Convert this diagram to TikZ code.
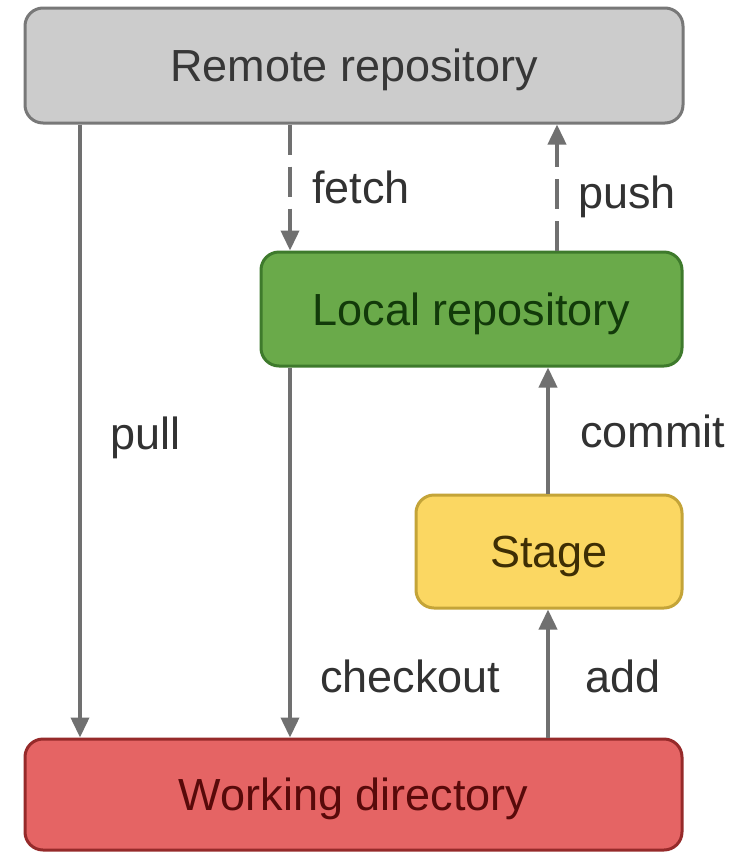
\documentclass[tikz,border=0pt]{standalone}
\usepackage{fontspec}
\setmainfont{Liberation Sans}
\usetikzlibrary{arrows.meta}

\definecolor{edgegray}{RGB}{112,112,112}
\definecolor{remotefill}{RGB}{204,204,204}
\definecolor{remotedraw}{RGB}{120,120,120}
\definecolor{remotetext}{RGB}{55,55,55}
\definecolor{localfill}{RGB}{106,170,74}
\definecolor{localdraw}{RGB}{62,122,44}
\definecolor{localtext}{RGB}{18,58,10}
\definecolor{stagefill}{RGB}{251,215,98}
\definecolor{stagedraw}{RGB}{196,164,56}
\definecolor{stagetext}{RGB}{62,46,4}
\definecolor{workfill}{RGB}{229,100,100}
\definecolor{workdraw}{RGB}{150,42,42}
\definecolor{worktext}{RGB}{88,10,10}
\definecolor{labeltext}{RGB}{50,50,50}

\tikzset{
  repo/.style={draw, line width=1.5pt, rounded corners=9pt, inner sep=0pt,
    text height=18pt, text depth=1.6pt,
    font=\fontsize{22.5}{27}\selectfont},
  flow/.style={draw=edgegray, line width=1.9pt,
    -{Triangle[width=9pt,length=10pt]}},
  remotecall/.style={flow, dash pattern=on 15pt off 6pt},
  cmd/.style={anchor=base west, inner sep=0pt, text=labeltext,
    font=\fontsize{22.5}{27}\selectfont},
}

\begin{document}
\begin{tikzpicture}[x=0.5pt, y=-0.5pt]
  \useasboundingbox[fill=white] (0,0) rectangle (729,852);

  % the four storage areas
  \node[repo, fill=remotefill, draw=remotedraw, text=remotetext,
        minimum width=329pt, minimum height=57.5pt]
        (remote) at (354,65.5) {Remote repository};
  \node[repo, fill=localfill, draw=localdraw, text=localtext,
        minimum width=210.5pt, minimum height=57pt]
        (local) at (471.5,309) {Local repository};
  \node[repo, fill=stagefill, draw=stagedraw, text=stagetext,
        minimum width=133pt, minimum height=56.5pt]
        (stage) at (549,551.5) {Stage};
  \node[repo, fill=workfill, draw=workdraw, text=worktext,
        minimum width=328.5pt, minimum height=55.5pt]
        (work) at (353.5,794.5) {Working directory};

  % x positions of the vertical connectors
  \coordinate (pullx) at (80,0);
  \coordinate (fetchx) at (290,0);
  \coordinate (pushx) at (557,0);
  \coordinate (stagex) at (548,0);

  % connectors
  \draw[flow] (remote.south -| pullx) -- (work.north -| pullx);
  \draw[remotecall] (remote.south -| fetchx) -- (local.north -| fetchx);
  \draw[remotecall] (local.north -| pushx) -- (remote.south -| pushx);
  \draw[flow] (local.south -| fetchx) -- (work.north -| fetchx);
  \draw[flow] (stage.north -| stagex) -- (local.south -| stagex);
  \draw[flow] (work.north -| stagex) -- (stage.south -| stagex);

  % command labels
  \node[cmd] (lpull) at (110,449) {pull};
  \node[cmd] (lfetch) at (312,203) {fetch};
  \node[cmd] (lpush) at (578,208) {push};
  \node[cmd] (lcommit) at (580,447) {commit};
  \node[cmd] (lcheckout) at (320,692) {checkout};
  \node[cmd] (ladd) at (585,692) {add};
\end{tikzpicture}
\end{document}
